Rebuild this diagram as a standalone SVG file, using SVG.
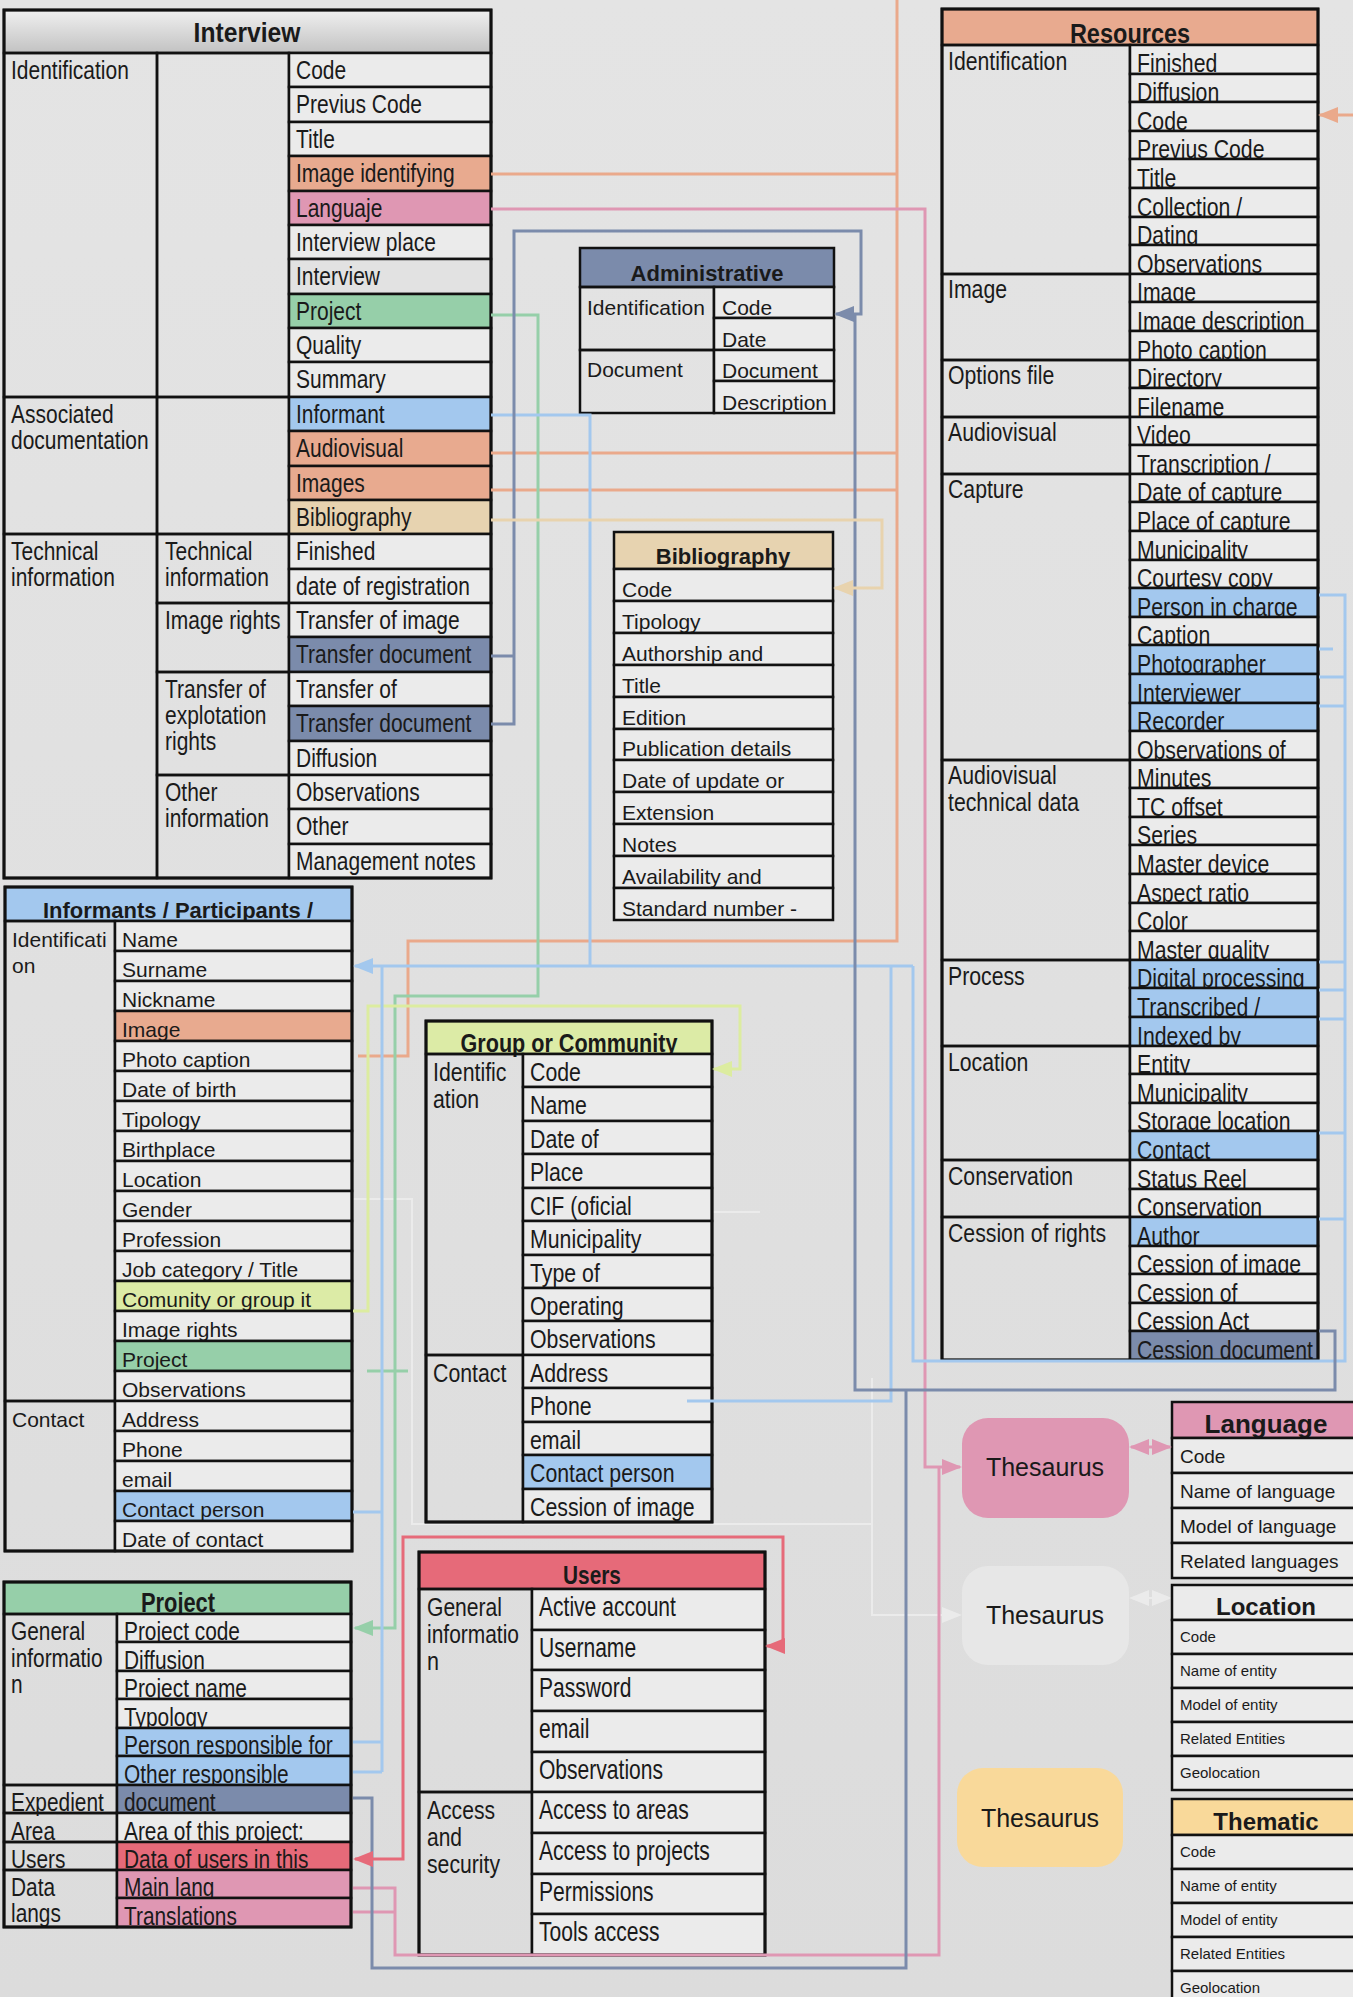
<svg xmlns="http://www.w3.org/2000/svg" width="1353" height="1997" viewBox="0 0 1353 1997">
<defs>
<linearGradient id="bgGrad" x1="0" y1="0" x2="0" y2="1">
<stop offset="0" stop-color="#e4e4e4"/><stop offset="1" stop-color="#dcdcdc"/>
</linearGradient>
<linearGradient id="headGrad" x1="0" y1="0" x2="0" y2="1">
<stop offset="0" stop-color="#f0f0f0"/><stop offset="1" stop-color="#c2c2c2"/>
</linearGradient>
<style>
.c{fill:#ebebeb;stroke:#111;stroke-width:2.5}
.s{fill:none;stroke:#111;stroke-width:2.5}
.or{fill:#e8aa8f}
.pk{fill:#df97b3}
.gr{fill:#96cfa9}
.bl{fill:#a3c8ee}
.sl{fill:#7b8bab}
.be{fill:#e7d3b0}
.yg{fill:#dcebA6}
.rd{fill:#e66a79}
.ye{fill:#f9d99a}
text{fill:#1a1a1a}
.n{font-family:"Liberation Sans",Arial,sans-serif;font-size:25px}
.n26{font-size:26px}
.n27{font-size:27px}
.r{font-family:"Liberation Sans",Arial,sans-serif;font-size:21px}
.r19{font-size:19px}
.r15{font-size:15px}
.b{font-weight:bold}
.m{text-anchor:middle}
.ln{fill:none;stroke-width:3}
.lo{stroke:#eaa98b}
.lp{stroke:#df97b3}
.lg{stroke:#96cfa9}
.ly{stroke:#dcecA0}
.lb{stroke:#a3c8ee}
.ls{stroke:#7b8bab}
.le{stroke:#e8d3ae}
.lr{stroke:#e66a79}
.lf{stroke:#ebebeb;stroke-width:2}
.th{font-family:"Liberation Sans",Arial,sans-serif;font-size:25px;text-anchor:middle}
</style>
<marker id="arO" markerUnits="userSpaceOnUse" markerWidth="20" markerHeight="16" refX="18" refY="8" orient="auto"><path d="M0,0 L20,8 L0,16 z" fill="#eaa98b"/></marker>
<marker id="arP" markerUnits="userSpaceOnUse" markerWidth="20" markerHeight="16" refX="18" refY="8" orient="auto-start-reverse"><path d="M0,0 L20,8 L0,16 z" fill="#df97b3"/></marker>
<marker id="arG" markerUnits="userSpaceOnUse" markerWidth="20" markerHeight="16" refX="18" refY="8" orient="auto"><path d="M0,0 L20,8 L0,16 z" fill="#96cfa9"/></marker>
<marker id="arY" markerUnits="userSpaceOnUse" markerWidth="20" markerHeight="16" refX="18" refY="8" orient="auto"><path d="M0,0 L20,8 L0,16 z" fill="#dcecA0"/></marker>
<marker id="arB" markerUnits="userSpaceOnUse" markerWidth="20" markerHeight="16" refX="18" refY="8" orient="auto"><path d="M0,0 L20,8 L0,16 z" fill="#a3c8ee"/></marker>
<marker id="arS" markerUnits="userSpaceOnUse" markerWidth="20" markerHeight="16" refX="18" refY="8" orient="auto"><path d="M0,0 L20,8 L0,16 z" fill="#7b8bab"/></marker>
<marker id="arE" markerUnits="userSpaceOnUse" markerWidth="20" markerHeight="16" refX="18" refY="8" orient="auto"><path d="M0,0 L20,8 L0,16 z" fill="#e8d3ae"/></marker>
<marker id="arR" markerUnits="userSpaceOnUse" markerWidth="20" markerHeight="16" refX="18" refY="8" orient="auto-start-reverse"><path d="M0,0 L20,8 L0,16 z" fill="#e66a79"/></marker>
<marker id="arF" markerUnits="userSpaceOnUse" markerWidth="20" markerHeight="16" refX="18" refY="8" orient="auto-start-reverse"><path d="M0,0 L20,8 L0,16 z" fill="#ebebeb"/></marker>
</defs>

<rect x="0" y="0" width="1353" height="1997" fill="url(#bgGrad)"/>

<!-- faint, almost hidden links -->
<g id="faint-links">
<path class="ln lf" d="M352,1199 H412 V1524 H872"/>
<path class="ln lf" d="M712,1212 H760"/>
<path class="ln lf" d="M872,1378 V1615 H960" marker-end="url(#arF)"/>
<path class="ln lf" d="M1131,1598 H1170" marker-start="url(#arF)" marker-end="url(#arF)"/>
</g>

<!-- Interview -->
<g id="interview">
<rect x="4" y="10" width="487" height="43" fill="url(#headGrad)" stroke="#111" stroke-width="2.5"/>
<text class="n b m" transform="translate(247,42) scale(0.88,1)" style="font-size:28px">Interview</text>
<rect class="s" x="4" y="53" width="153" height="344"/>
<rect class="s" x="4" y="397" width="153" height="137"/>
<rect class="s" x="4" y="534" width="153" height="344"/>
<rect class="s" x="157" y="53" width="132" height="344"/>
<rect class="s" x="157" y="397" width="132" height="137"/>
<rect class="s" x="157" y="534" width="132" height="69"/>
<rect class="s" x="157" y="603" width="132" height="69"/>
<rect class="s" x="157" y="672" width="132" height="103"/>
<rect class="s" x="157" y="775" width="132" height="103"/>
<g transform="translate(11,0) scale(0.84,1)">
<text class="n" y="79">Identification</text>
<text class="n" y="423">Associated</text>
<text class="n" y="449">documentation</text>
<text class="n" y="560">Technical</text>
<text class="n" y="586">information</text>
</g>
<g transform="translate(165,0) scale(0.84,1)">
<text class="n" y="560">Technical</text>
<text class="n" y="586">information</text>
<text class="n" y="629">Image rights</text>
<text class="n" y="698">Transfer of</text>
<text class="n" y="724">explotation</text>
<text class="n" y="750">rights</text>
<text class="n" y="801">Other</text>
<text class="n" y="827">information</text>
</g>
<rect class="c" x="289" y="53" width="202" height="34"/>
<rect class="c" x="289" y="87" width="202" height="35"/>
<rect class="c" x="289" y="122" width="202" height="34"/>
<rect class="c or" x="289" y="156" width="202" height="35"/>
<rect class="c pk" x="289" y="191" width="202" height="34"/>
<rect class="c" x="289" y="225" width="202" height="34"/>
<rect class="c" x="289" y="259" width="202" height="35" style="fill:#e2e2e2"/>
<rect class="c gr" x="289" y="294" width="202" height="34"/>
<rect class="c" x="289" y="328" width="202" height="34"/>
<rect class="c" x="289" y="362" width="202" height="35"/>
<rect class="c bl" x="289" y="397" width="202" height="34"/>
<rect class="c or" x="289" y="431" width="202" height="35"/>
<rect class="c or" x="289" y="466" width="202" height="34"/>
<rect class="c be" x="289" y="500" width="202" height="34"/>
<rect class="c" x="289" y="534" width="202" height="35"/>
<rect class="c" x="289" y="569" width="202" height="34"/>
<rect class="c" x="289" y="603" width="202" height="34"/>
<rect class="c sl" x="289" y="637" width="202" height="35"/>
<rect class="c" x="289" y="672" width="202" height="34"/>
<rect class="c sl" x="289" y="706" width="202" height="35"/>
<rect class="c" x="289" y="741" width="202" height="34"/>
<rect class="c" x="289" y="775" width="202" height="34"/>
<rect class="c" x="289" y="809" width="202" height="35"/>
<rect class="c" x="289" y="844" width="202" height="34"/>
<g transform="translate(296,0) scale(0.84,1)">
<text class="n" y="79">Code</text>
<text class="n" y="113">Previus Code</text>
<text class="n" y="148">Title</text>
<text class="n" y="182">Image identifying</text>
<text class="n" y="217">Languaje</text>
<text class="n" y="251">Interview place</text>
<text class="n" y="285">Interview</text>
<text class="n" y="320">Project</text>
<text class="n" y="354">Quality</text>
<text class="n" y="388">Summary</text>
<text class="n" y="423">Informant</text>
<text class="n" y="457">Audiovisual</text>
<text class="n" y="492">Images</text>
<text class="n" y="526">Bibliography</text>
<text class="n" y="560">Finished</text>
<text class="n" y="595">date of registration</text>
<text class="n" y="629">Transfer of image</text>
<text class="n" y="663">Transfer document</text>
<text class="n" y="698">Transfer of</text>
<text class="n" y="732">Transfer document</text>
<text class="n" y="767">Diffusion</text>
<text class="n" y="801">Observations</text>
<text class="n" y="835">Other</text>
<text class="n" y="870">Management notes</text>
</g>
<rect class="s" x="4" y="10" width="487" height="868" style="stroke-width:3"/>
</g>

<!-- Administrative -->
<g id="administrative">
<rect class="c sl" x="580" y="248" width="254" height="39"/>
<text class="r b m" x="707" y="281" style="font-size:22px">Administrative</text>
<rect class="s" x="580" y="287" width="134" height="63"/>
<rect class="s" x="580" y="350" width="134" height="63"/>
<text class="r" x="587" y="315">Identification</text>
<text class="r" x="587" y="377">Document</text>
<rect class="c" x="714" y="287" width="120" height="31"/><text class="r" x="722" y="315">Code</text>
<rect class="c" x="714" y="318" width="120" height="32"/><text class="r" x="722" y="347">Date</text>
<rect class="c" x="714" y="350" width="120" height="31"/><text class="r" x="722" y="378">Document</text>
<rect class="c" x="714" y="381" width="120" height="32"/><text class="r" x="722" y="410">Description</text>
</g>

<!-- Bibliography -->
<g id="bibliography">
<rect class="c be" x="614" y="532" width="219" height="37"/>
<text class="r b m" x="723" y="564" style="font-size:22px">Bibliography</text>
<rect class="c" x="614" y="569" width="219" height="32"/><text class="r" x="622" y="597">Code</text>
<rect class="c" x="614" y="601" width="219" height="32"/><text class="r" x="622" y="629">Tipology</text>
<rect class="c" x="614" y="633" width="219" height="32"/><text class="r" x="622" y="661">Authorship and</text>
<rect class="c" x="614" y="665" width="219" height="32"/><text class="r" x="622" y="693">Title</text>
<rect class="c" x="614" y="697" width="219" height="32"/><text class="r" x="622" y="725">Edition</text>
<rect class="c" x="614" y="729" width="219" height="31"/><text class="r" x="622" y="756">Publication details</text>
<rect class="c" x="614" y="760" width="219" height="32"/><text class="r" x="622" y="788">Date of update or</text>
<rect class="c" x="614" y="792" width="219" height="32"/><text class="r" x="622" y="820">Extension</text>
<rect class="c" x="614" y="824" width="219" height="32"/><text class="r" x="622" y="852">Notes</text>
<rect class="c" x="614" y="856" width="219" height="32"/><text class="r" x="622" y="884">Availability and</text>
<rect class="c" x="614" y="888" width="219" height="32"/><text class="r" x="622" y="916">Standard number -</text>
</g>

<!-- Resources -->
<g id="resources">
<rect class="c or" x="942" y="9" width="376" height="36"/>
<text class="n b m" transform="translate(1130,43) scale(0.84,1)" style="font-size:28px">Resources</text>
<rect class="s" x="942" y="45" width="188" height="229"/>
<rect class="s" x="942" y="274" width="188" height="86"/>
<rect class="s" x="942" y="360" width="188" height="57"/>
<rect class="s" x="942" y="417" width="188" height="57"/>
<rect class="s" x="942" y="474" width="188" height="286"/>
<rect class="s" x="942" y="760" width="188" height="200"/>
<rect class="s" x="942" y="960" width="188" height="86"/>
<rect class="s" x="942" y="1046" width="188" height="114"/>
<rect class="s" x="942" y="1160" width="188" height="57"/>
<rect class="s" x="942" y="1217" width="188" height="143"/>
<g transform="translate(948,0) scale(0.85,1)">
<text class="n" y="70">Identification</text>
<text class="n" y="298">Image</text>
<text class="n" y="384">Options file</text>
<text class="n" y="441">Audiovisual</text>
<text class="n" y="498">Capture</text>
<text class="n" y="784">Audiovisual</text>
<text class="n" y="811">technical data</text>
<text class="n" y="985">Process</text>
<text class="n" y="1071">Location</text>
<text class="n" y="1185">Conservation</text>
<text class="n" y="1242">Cession of rights</text>
</g>
<rect class="c" x="1130" y="45" width="188" height="29"/><text class="n" transform="translate(1137,72) scale(0.85,1)">Finished</text>
<rect class="c" x="1130" y="74" width="188" height="28"/><text class="n" transform="translate(1137,101) scale(0.85,1)">Diffusion</text>
<rect class="c" x="1130" y="102" width="188" height="29"/><text class="n" transform="translate(1137,130) scale(0.85,1)">Code</text>
<rect class="c" x="1130" y="131" width="188" height="28"/><text class="n" transform="translate(1137,158) scale(0.85,1)">Previus Code</text>
<rect class="c" x="1130" y="159" width="188" height="29"/><text class="n" transform="translate(1137,187) scale(0.85,1)">Title</text>
<rect class="c" x="1130" y="188" width="188" height="29"/><text class="n" transform="translate(1137,216) scale(0.85,1)">Collection /</text>
<rect class="c" x="1130" y="217" width="188" height="28"/><text class="n" transform="translate(1137,244) scale(0.85,1)">Dating</text>
<rect class="c" x="1130" y="245" width="188" height="29"/><text class="n" transform="translate(1137,273) scale(0.85,1)">Observations</text>
<rect class="c" x="1130" y="274" width="188" height="28"/><text class="n" transform="translate(1137,301) scale(0.85,1)">Image</text>
<rect class="c" x="1130" y="302" width="188" height="29"/><text class="n" transform="translate(1137,330) scale(0.85,1)">Image description</text>
<rect class="c" x="1130" y="331" width="188" height="29"/><text class="n" transform="translate(1137,359) scale(0.85,1)">Photo caption</text>
<rect class="c" x="1130" y="360" width="188" height="28"/><text class="n" transform="translate(1137,387) scale(0.85,1)">Directory</text>
<rect class="c" x="1130" y="388" width="188" height="29"/><text class="n" transform="translate(1137,416) scale(0.85,1)">Filename</text>
<rect class="c" x="1130" y="417" width="188" height="28"/><text class="n" transform="translate(1137,444) scale(0.85,1)">Video</text>
<rect class="c" x="1130" y="445" width="188" height="29"/><text class="n" transform="translate(1137,473) scale(0.85,1)">Transcription /</text>
<rect class="c" x="1130" y="474" width="188" height="28"/><text class="n" transform="translate(1137,501) scale(0.85,1)">Date of capture</text>
<rect class="c" x="1130" y="502" width="188" height="29"/><text class="n" transform="translate(1137,530) scale(0.85,1)">Place of capture</text>
<rect class="c" x="1130" y="531" width="188" height="29"/><text class="n" transform="translate(1137,559) scale(0.85,1)">Municipality</text>
<rect class="c" x="1130" y="560" width="188" height="28"/><text class="n" transform="translate(1137,587) scale(0.85,1)">Courtesy copy</text>
<rect class="c bl" x="1130" y="588" width="188" height="29"/><text class="n" transform="translate(1137,616) scale(0.85,1)">Person in charge</text>
<rect class="c" x="1130" y="617" width="188" height="28"/><text class="n" transform="translate(1137,644) scale(0.85,1)">Caption</text>
<rect class="c bl" x="1130" y="645" width="188" height="29"/><text class="n" transform="translate(1137,673) scale(0.85,1)">Photographer</text>
<rect class="c bl" x="1130" y="674" width="188" height="29"/><text class="n" transform="translate(1137,702) scale(0.85,1)">Interviewer</text>
<rect class="c bl" x="1130" y="703" width="188" height="28"/><text class="n" transform="translate(1137,730) scale(0.85,1)">Recorder</text>
<rect class="c" x="1130" y="731" width="188" height="29"/><text class="n" transform="translate(1137,759) scale(0.85,1)">Observations of</text>
<rect class="c" x="1130" y="760" width="188" height="28"/><text class="n" transform="translate(1137,787) scale(0.85,1)">Minutes</text>
<rect class="c" x="1130" y="788" width="188" height="29"/><text class="n" transform="translate(1137,816) scale(0.85,1)">TC offset</text>
<rect class="c" x="1130" y="817" width="188" height="28"/><text class="n" transform="translate(1137,844) scale(0.85,1)">Series</text>
<rect class="c" x="1130" y="845" width="188" height="29"/><text class="n" transform="translate(1137,873) scale(0.85,1)">Master device</text>
<rect class="c" x="1130" y="874" width="188" height="29"/><text class="n" transform="translate(1137,902) scale(0.85,1)">Aspect ratio</text>
<rect class="c" x="1130" y="903" width="188" height="28"/><text class="n" transform="translate(1137,930) scale(0.85,1)">Color</text>
<rect class="c" x="1130" y="931" width="188" height="29"/><text class="n" transform="translate(1137,959) scale(0.85,1)">Master quality</text>
<rect class="c bl" x="1130" y="960" width="188" height="28"/><text class="n" transform="translate(1137,987) scale(0.85,1)">Digital processing</text>
<rect class="c bl" x="1130" y="988" width="188" height="29"/><text class="n" transform="translate(1137,1016) scale(0.85,1)">Transcribed /</text>
<rect class="c bl" x="1130" y="1017" width="188" height="29"/><text class="n" transform="translate(1137,1045) scale(0.85,1)">Indexed by</text>
<rect class="c" x="1130" y="1046" width="188" height="28"/><text class="n" transform="translate(1137,1073) scale(0.85,1)">Entity</text>
<rect class="c" x="1130" y="1074" width="188" height="29"/><text class="n" transform="translate(1137,1102) scale(0.85,1)">Municipality</text>
<rect class="c" x="1130" y="1103" width="188" height="28"/><text class="n" transform="translate(1137,1130) scale(0.85,1)">Storage location</text>
<rect class="c bl" x="1130" y="1131" width="188" height="29"/><text class="n" transform="translate(1137,1159) scale(0.85,1)">Contact</text>
<rect class="c" x="1130" y="1160" width="188" height="29"/><text class="n" transform="translate(1137,1188) scale(0.85,1)">Status Reel</text>
<rect class="c" x="1130" y="1189" width="188" height="28"/><text class="n" transform="translate(1137,1216) scale(0.85,1)">Conservation</text>
<rect class="c bl" x="1130" y="1217" width="188" height="29"/><text class="n" transform="translate(1137,1245) scale(0.85,1)">Author</text>
<rect class="c" x="1130" y="1246" width="188" height="28"/><text class="n" transform="translate(1137,1273) scale(0.85,1)">Cession of image</text>
<rect class="c" x="1130" y="1274" width="188" height="29"/><text class="n" transform="translate(1137,1302) scale(0.85,1)">Cession of</text>
<rect class="c" x="1130" y="1303" width="188" height="28"/><text class="n" transform="translate(1137,1330) scale(0.85,1)">Cession Act</text>
<rect class="c sl" x="1130" y="1331" width="188" height="29"/><text class="n" transform="translate(1137,1359) scale(0.85,1)">Cession document</text>
<rect class="s" x="942" y="9" width="376" height="1351" style="stroke-width:3"/>
</g>

<!-- Informants / Participants -->
<g id="informants">
<rect class="c bl" x="5" y="887" width="347" height="34"/>
<text class="r b m" x="178" y="918" style="font-size:22px">Informants / Participants /</text>
<rect class="s" x="5" y="921" width="110" height="480"/>
<rect class="s" x="5" y="1401" width="110" height="150"/>
<text class="r" x="12" y="947">Identificati</text>
<text class="r" x="12" y="973">on</text>
<text class="r" x="12" y="1427">Contact</text>
<rect class="c" x="115" y="921" width="237" height="30"/><text class="r" x="122" y="947">Name</text>
<rect class="c" x="115" y="951" width="237" height="30"/><text class="r" x="122" y="977">Surname</text>
<rect class="c" x="115" y="981" width="237" height="30"/><text class="r" x="122" y="1007">Nickname</text>
<rect class="c or" x="115" y="1011" width="237" height="30"/><text class="r" x="122" y="1037">Image</text>
<rect class="c" x="115" y="1041" width="237" height="30"/><text class="r" x="122" y="1067">Photo caption</text>
<rect class="c" x="115" y="1071" width="237" height="30"/><text class="r" x="122" y="1097">Date of birth</text>
<rect class="c" x="115" y="1101" width="237" height="30"/><text class="r" x="122" y="1127">Tipology</text>
<rect class="c" x="115" y="1131" width="237" height="30"/><text class="r" x="122" y="1157">Birthplace</text>
<rect class="c" x="115" y="1161" width="237" height="30"/><text class="r" x="122" y="1187">Location</text>
<rect class="c" x="115" y="1191" width="237" height="30"/><text class="r" x="122" y="1217">Gender</text>
<rect class="c" x="115" y="1221" width="237" height="30"/><text class="r" x="122" y="1247">Profession</text>
<rect class="c" x="115" y="1251" width="237" height="30"/><text class="r" x="122" y="1277">Job category / Title</text>
<rect class="c yg" x="115" y="1281" width="237" height="30"/><text class="r" x="122" y="1307">Comunity or group it</text>
<rect class="c" x="115" y="1311" width="237" height="30"/><text class="r" x="122" y="1337">Image rights</text>
<rect class="c gr" x="115" y="1341" width="237" height="30"/><text class="r" x="122" y="1367">Project</text>
<rect class="c" x="115" y="1371" width="237" height="30"/><text class="r" x="122" y="1397">Observations</text>
<rect class="c" x="115" y="1401" width="237" height="30"/><text class="r" x="122" y="1427">Address</text>
<rect class="c" x="115" y="1431" width="237" height="30"/><text class="r" x="122" y="1457">Phone</text>
<rect class="c" x="115" y="1461" width="237" height="30"/><text class="r" x="122" y="1487">email</text>
<rect class="c bl" x="115" y="1491" width="237" height="30"/><text class="r" x="122" y="1517">Contact person</text>
<rect class="c" x="115" y="1521" width="237" height="30"/><text class="r" x="122" y="1547">Date of contact</text>
<rect class="s" x="5" y="887" width="347" height="664" style="stroke-width:3"/>
</g>

<!-- Group or Community -->
<g id="group-community">
<rect class="c yg" x="426" y="1021" width="286" height="33"/>
<text class="n n26 b m" transform="translate(569,1052) scale(0.83,1)">Group or Community</text>
<rect class="s" x="426" y="1054" width="97" height="301"/>
<rect class="s" x="426" y="1355" width="97" height="167"/>
<g transform="translate(433,0) scale(0.82,1)">
<text class="n n26" y="1081">Identific</text>
<text class="n n26" y="1108">ation</text>
<text class="n n26" y="1382">Contact</text>
</g>
<rect class="c" x="523" y="1054" width="189" height="33"/>
<rect class="c" x="523" y="1087" width="189" height="34"/>
<rect class="c" x="523" y="1121" width="189" height="33"/>
<rect class="c" x="523" y="1154" width="189" height="34"/>
<rect class="c" x="523" y="1188" width="189" height="33"/>
<rect class="c" x="523" y="1221" width="189" height="34"/>
<rect class="c" x="523" y="1255" width="189" height="33"/>
<rect class="c" x="523" y="1288" width="189" height="33"/>
<rect class="c" x="523" y="1321" width="189" height="34"/>
<rect class="c" x="523" y="1355" width="189" height="33"/>
<rect class="c" x="523" y="1388" width="189" height="34"/>
<rect class="c" x="523" y="1422" width="189" height="33"/>
<rect class="c bl" x="523" y="1455" width="189" height="34"/>
<rect class="c" x="523" y="1489" width="189" height="33"/>
<g transform="translate(530,0) scale(0.82,1)">
<text class="n n26" y="1081">Code</text>
<text class="n n26" y="1114">Name</text>
<text class="n n26" y="1148">Date of</text>
<text class="n n26" y="1181">Place</text>
<text class="n n26" y="1215">CIF (oficial</text>
<text class="n n26" y="1248">Municipality</text>
<text class="n n26" y="1282">Type of</text>
<text class="n n26" y="1315">Operating</text>
<text class="n n26" y="1348">Observations</text>
<text class="n n26" y="1382">Address</text>
<text class="n n26" y="1415">Phone</text>
<text class="n n26" y="1449">email</text>
<text class="n n26" y="1482">Contact person</text>
<text class="n n26" y="1516">Cession of image</text>
</g>
<rect class="s" x="426" y="1021" width="286" height="501" style="stroke-width:3"/>
</g>

<!-- Project -->
<g id="project">
<rect class="c gr" x="4" y="1582" width="347" height="32"/>
<text class="n n27 b m" transform="translate(178,1612) scale(0.81,1)">Project</text>
<rect class="s" x="4" y="1614" width="113" height="171"/>
<rect class="s" x="4" y="1785" width="113" height="28"/>
<rect class="s" x="4" y="1813" width="113" height="29"/>
<rect class="s" x="4" y="1842" width="113" height="28"/>
<rect class="s" x="4" y="1870" width="113" height="57"/>
<g transform="translate(11,0) scale(0.835,1)">
<text class="n" y="1640">General</text>
<text class="n" y="1667">informatio</text>
<text class="n" y="1693">n</text>
<text class="n" y="1811">Expedient</text>
<text class="n" y="1840">Area</text>
<text class="n" y="1868">Users</text>
<text class="n" y="1896">Data</text>
<text class="n" y="1922">langs</text>
</g>
<rect class="c" x="117" y="1614" width="234" height="28"/><text class="n" transform="translate(124,1640) scale(0.835,1)">Project code</text>
<rect class="c" x="117" y="1642" width="234" height="29"/><text class="n" transform="translate(124,1669) scale(0.835,1)">Diffusion</text>
<rect class="c" x="117" y="1671" width="234" height="28"/><text class="n" transform="translate(124,1697) scale(0.835,1)">Project name</text>
<rect class="c" x="117" y="1699" width="234" height="29"/><text class="n" transform="translate(124,1726) scale(0.835,1)">Typology</text>
<rect class="c bl" x="117" y="1728" width="234" height="28"/><text class="n" transform="translate(124,1754) scale(0.835,1)">Person responsible for</text>
<rect class="c bl" x="117" y="1756" width="234" height="29"/><text class="n" transform="translate(124,1783) scale(0.835,1)">Other responsible</text>
<rect class="c sl" x="117" y="1785" width="234" height="28"/><text class="n" transform="translate(124,1811) scale(0.835,1)">document</text>
<rect class="c" x="117" y="1813" width="234" height="29"/><text class="n" transform="translate(124,1840) scale(0.835,1)">Area of this project:</text>
<rect class="c rd" x="117" y="1842" width="234" height="28"/><text class="n" transform="translate(124,1868) scale(0.835,1)">Data of users in this</text>
<rect class="c pk" x="117" y="1870" width="234" height="28"/><text class="n" transform="translate(124,1896) scale(0.835,1)">Main lang</text>
<rect class="c pk" x="117" y="1898" width="234" height="29"/><text class="n" transform="translate(124,1925) scale(0.835,1)">Translations</text>
<rect class="s" x="4" y="1582" width="347" height="345" style="stroke-width:3"/>
</g>

<!-- Users -->
<g id="users">
<rect class="c rd" x="419" y="1552" width="346" height="37"/>
<text class="n n26 b m" transform="translate(592,1584) scale(0.8,1)">Users</text>
<rect class="s" x="419" y="1589" width="113" height="203"/>
<rect class="s" x="419" y="1792" width="113" height="163"/>
<text class="n n26" x="427" y="1616" textLength="75" lengthAdjust="spacingAndGlyphs">General</text>
<text class="n n26" x="427" y="1643" textLength="92" lengthAdjust="spacingAndGlyphs">informatio</text>
<text class="n n26" x="427" y="1670" textLength="12" lengthAdjust="spacingAndGlyphs">n</text>
<text class="n n26" x="427" y="1819" textLength="68" lengthAdjust="spacingAndGlyphs">Access</text>
<text class="n n26" x="427" y="1846" textLength="35" lengthAdjust="spacingAndGlyphs">and</text>
<text class="n n26" x="427" y="1873" textLength="73" lengthAdjust="spacingAndGlyphs">security</text>
<rect class="c" x="532" y="1589" width="233" height="41"/>
<rect class="c" x="532" y="1630" width="233" height="40"/>
<rect class="c" x="532" y="1670" width="233" height="41"/>
<rect class="c" x="532" y="1711" width="233" height="41"/>
<rect class="c" x="532" y="1752" width="233" height="40"/>
<rect class="c" x="532" y="1792" width="233" height="41"/>
<rect class="c" x="532" y="1833" width="233" height="41"/>
<rect class="c" x="532" y="1874" width="233" height="40"/>
<rect class="c" x="532" y="1914" width="233" height="41"/>
<g transform="translate(539,0) scale(0.78,1)">
<text class="n n27" y="1616">Active account</text>
<text class="n n27" y="1657">Username</text>
<text class="n n27" y="1697">Password</text>
<text class="n n27" y="1738">email</text>
<text class="n n27" y="1779">Observations</text>
<text class="n n27" y="1819">Access to areas</text>
<text class="n n27" y="1860">Access to projects</text>
<text class="n n27" y="1901">Permissions</text>
<text class="n n27" y="1941">Tools access</text>
</g>
<rect class="s" x="419" y="1552" width="346" height="403" style="stroke-width:3"/>
</g>

<!-- Thesaurus nodes -->
<g id="thesaurus-language">
<rect x="962" y="1418" width="167" height="100" rx="26" class="pk"/>
<text class="th" x="1045" y="1476">Thesaurus</text>
</g>
<g id="thesaurus-location">
<rect x="962" y="1566" width="167" height="99" rx="26" fill="#e7e7e7"/>
<text class="th" x="1045" y="1624">Thesaurus</text>
</g>
<g id="thesaurus-thematic">
<rect x="957" y="1768" width="166" height="99" rx="26" class="ye"/>
<text class="th" x="1040" y="1827">Thesaurus</text>
</g>

<!-- Language -->
<g id="language">
<rect class="c pk" x="1172" y="1402" width="190" height="36"/>
<text class="r b m" x="1266" y="1433" style="font-size:26px">Language</text>
<rect class="c" x="1172" y="1438" width="190" height="35"/><text class="r r19" x="1180" y="1463">Code</text>
<rect class="c" x="1172" y="1473" width="190" height="35"/><text class="r r19" x="1180" y="1498">Name of language</text>
<rect class="c" x="1172" y="1508" width="190" height="35"/><text class="r r19" x="1180" y="1533">Model of language</text>
<rect class="c" x="1172" y="1543" width="190" height="35"/><text class="r r19" x="1180" y="1568">Related languages</text>
</g>

<!-- Location -->
<g id="location">
<rect class="c" x="1172" y="1585" width="190" height="35"/>
<text class="r b m" x="1266" y="1615" style="font-size:24px">Location</text>
<rect class="c" x="1172" y="1620" width="190" height="34"/><text class="r r15" x="1180" y="1642">Code</text>
<rect class="c" x="1172" y="1654" width="190" height="34"/><text class="r r15" x="1180" y="1676">Name of entity</text>
<rect class="c" x="1172" y="1688" width="190" height="34"/><text class="r r15" x="1180" y="1710">Model of entity</text>
<rect class="c" x="1172" y="1722" width="190" height="34"/><text class="r r15" x="1180" y="1744">Related Entities</text>
<rect class="c" x="1172" y="1756" width="190" height="34"/><text class="r r15" x="1180" y="1778">Geolocation</text>
</g>

<!-- Thematic -->
<g id="thematic">
<rect class="c ye" x="1172" y="1799" width="190" height="36"/>
<text class="r b m" x="1266" y="1830" style="font-size:24px">Thematic</text>
<rect class="c" x="1172" y="1835" width="190" height="34"/><text class="r r15" x="1180" y="1857">Code</text>
<rect class="c" x="1172" y="1869" width="190" height="34"/><text class="r r15" x="1180" y="1891">Name of entity</text>
<rect class="c" x="1172" y="1903" width="190" height="34"/><text class="r r15" x="1180" y="1925">Model of entity</text>
<rect class="c" x="1172" y="1937" width="190" height="34"/><text class="r r15" x="1180" y="1959">Related Entities</text>
<rect class="c" x="1172" y="1971" width="190" height="34"/><text class="r r15" x="1180" y="1993">Geolocation</text>
</g>

<!-- Connectors -->
<g id="connectors">
<!-- resources links (salmon) -->
<path class="ln lo" d="M491,174 H897"/>
<path class="ln lo" d="M491,453 H897"/>
<path class="ln lo" d="M491,490 H897"/>
<path class="ln lo" d="M897,0 V941 H408 V1056 H358"/>
<path class="ln lo" d="M1353,115 H1320" marker-end="url(#arO)"/>
<!-- language links (pink) -->
<path class="ln lp" d="M491,209 H925 V1467 H960" marker-end="url(#arP)"/>
<path class="ln lp" d="M353,1888 H395 V1955 H939 V1467"/>
<path class="ln lp" d="M353,1912 H395"/>
<path class="ln lp" d="M1131,1447 H1170" marker-start="url(#arP)" marker-end="url(#arP)"/>
<!-- project links (green) -->
<path class="ln lg" d="M491,315 H538 V996 H395 V1628 H355" marker-end="url(#arG)"/>
<path class="ln lg" d="M367,1371 H408"/>
<!-- group or community link -->
<path class="ln ly" d="M353,1311 H368 V1006 H740 V1069 H714" marker-end="url(#arY)"/>
<!-- informant links (light blue) -->
<path class="ln lb" d="M491,415 H590 V966"/>
<path class="ln lb" d="M913,966 H355" marker-end="url(#arB)"/>
<path class="ln lb" d="M382,966 V1772"/>
<path class="ln lb" d="M353,1512 H382"/>
<path class="ln lb" d="M353,1742 H382"/>
<path class="ln lb" d="M353,1772 H382"/>
<path class="ln lb" d="M687,1401 H891 V966"/>
<path class="ln lb" d="M913,966 V1361 H1345 V595 H1319"/>
<path class="ln lb" d="M1319,649 H1333"/>
<path class="ln lb" d="M1319,677 H1345"/>
<path class="ln lb" d="M1319,706 H1345"/>
<path class="ln lb" d="M1319,962 H1345"/>
<path class="ln lb" d="M1319,990 H1345"/>
<path class="ln lb" d="M1319,1019 H1345"/>
<path class="ln lb" d="M1319,1133 H1345"/>
<path class="ln lb" d="M1319,1219 H1345"/>
<!-- administrative links (slate) -->
<path class="ln ls" d="M491,656 H514"/>
<path class="ln ls" d="M491,724 H514 V231 H861 V314 H836" marker-end="url(#arS)"/>
<path class="ln ls" d="M855,314 V1390 H1335 V1331 H1319"/>
<path class="ln ls" d="M353,1798 H372 V1968 H906 V1390"/>
<!-- bibliography link -->
<path class="ln le" d="M491,520 H882 V588 H835" marker-end="url(#arE)"/>
<!-- users link -->
<path class="ln lr" d="M355,1859 H403 V1537 H783 V1646 H767" marker-start="url(#arR)" marker-end="url(#arR)"/>
</g>
</svg>
